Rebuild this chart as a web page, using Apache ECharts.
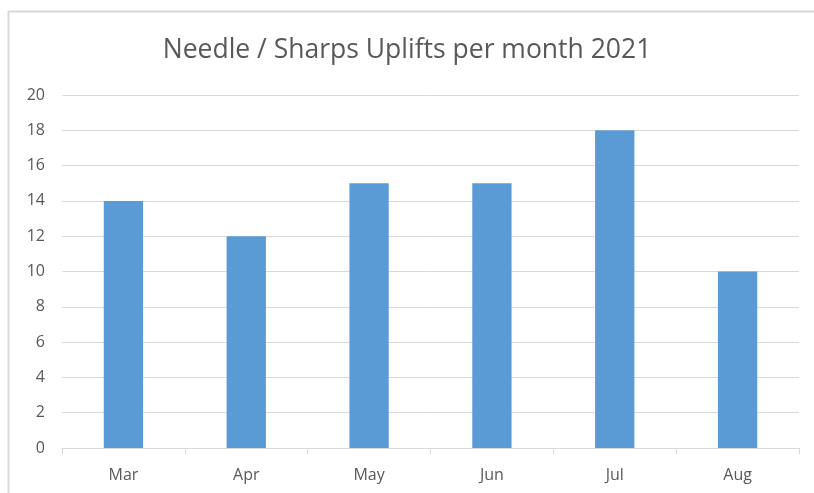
<!DOCTYPE html>
<html>
<head>
<meta charset="utf-8">
<script src="https://cdn.jsdelivr.net/npm/echarts@6/dist/echarts.min.js"></script>
<style>
  html, body { margin: 0; padding: 0; background: #fff; }
  #main { width: 814px; height: 493px; }
</style>
</head>
<body>
<div id="main"></div>
<script>
// 数据
const months = ['Mar', 'Apr', 'May', 'Jun', 'Jul', 'Aug']
const uplifts = [14, 12, 15, 15, 18, 10]
const titleText = 'Needle / Sharps Uplifts per month 2021'

const chart = echarts.init(document.getElementById('main'), null, { renderer: 'canvas' })
const font = '"Open Sans", "Liberation Sans", sans-serif'

const option = {
  backgroundColor: '#ffffff',
  animation: false,
  title: {
    text: titleText,
    left: 'center',
    top: 32,
    textStyle: { color: '#595959', fontWeight: 'normal', fontSize: 26.5, fontFamily: font }
  },
  // 外框（只有上边和左边可见）
  graphic: [
    { type: 'line', shape: { x1: 8, y1: 11.5, x2: 814, y2: 11.5 }, style: { stroke: '#d9d9d9', lineWidth: 2 } },
    { type: 'line', shape: { x1: 8.5, y1: 11, x2: 8.5, y2: 493 }, style: { stroke: '#d9d9d9', lineWidth: 2 } }
  ],
  grid: { left: 62, right: 15, top: 95, bottom: 45 },
  xAxis: {
    type: 'category',
    data: months,
    axisLine: { lineStyle: { color: '#d9d9d9', width: 1 } },
    axisTick: { show: true, length: 6, lineStyle: { color: '#d9d9d9' } },
    axisLabel: { color: '#595959', fontSize: 16, margin: 19, fontFamily: font }
  },
  yAxis: {
    type: 'value',
    min: 0,
    max: 20,
    interval: 2,
    axisLine: { show: false },
    axisTick: { show: false },
    axisLabel: { color: '#595959', fontSize: 16, margin: 17, fontFamily: font },
    splitLine: { lineStyle: { color: '#d9d9d9', width: 1 } }
  },
  series: [
    {
      type: 'bar',
      data: uplifts,
      barWidth: '32%',
      itemStyle: { color: '#5b9bd5' }
    }
  ]
}
chart.setOption(option)
</script>
</body>
</html>
